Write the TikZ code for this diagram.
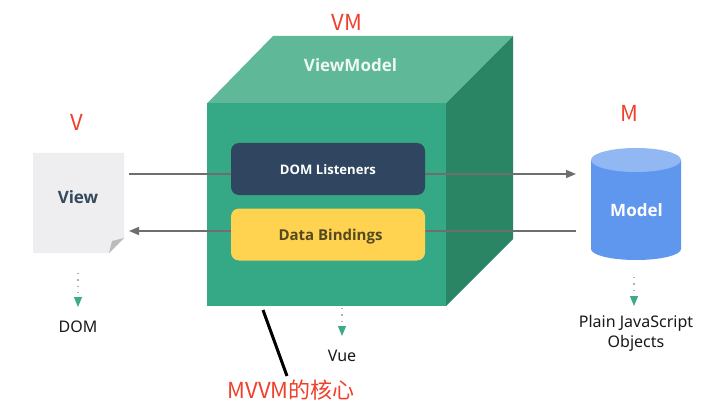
\documentclass[tikz,border=0pt]{standalone}
\usepackage{fontspec}
\setmainfont{Noto Sans}
\newfontfamily\heavy{Open Sans Bold}
\newfontfamily\cjk{Noto Sans CJK SC}
\usetikzlibrary{arrows.meta}
\definecolor{cubefront}{HTML}{35A985}
\definecolor{cubetop}{HTML}{5FB897}
\definecolor{cuberight}{HTML}{2A8565}
\definecolor{navy}{HTML}{2F4560}
\definecolor{amber}{HTML}{FFD24F}
\definecolor{paper}{HTML}{EEEEF0}
\definecolor{foldgray}{HTML}{BBBBBB}
\definecolor{cylside}{HTML}{5F96EE}
\definecolor{cyltop}{HTML}{92B8F4}
\definecolor{linkgray}{HTML}{6E6E6E}
\definecolor{tealtip}{HTML}{3DAB8A}
\definecolor{redlabel}{HTML}{F0402B}
\definecolor{viewtext}{HTML}{34495E}
\definecolor{bindtext}{HTML}{54491F}
\tikzset{
  x=1pt,y=-1pt,
  innerbox/.style={rounded corners=8pt,minimum width=194pt,minimum height=52pt,inner sep=0pt},
  listenlabel/.style={font=\heavy\fontsize{13.1}{16}\selectfont,inner sep=0pt},
  bindlabel/.style={font=\heavy\fontsize{15}{16}\selectfont,inner sep=0pt},
  biglabel/.style={font=\heavy\fontsize{17}{18}\selectfont,inner sep=0pt},
  plainlabel/.style={font=\fontsize{16}{20.5}\selectfont,text=black!90,inner sep=0pt,align=center},
  redtag/.style={font=\cjk\fontsize{22}{24}\selectfont,text=redlabel,inner sep=0pt},
  link/.style={draw=linkgray,line width=1.5pt},
  linktip/.style={-{Triangle[length=10pt,width=8pt,color=linkgray]}},
  dotlink/.style={draw=black!30,line width=1.1pt,dash pattern=on 1.3pt off 5pt,-{Triangle[length=10pt,width=8pt,color=tealtip]}},
}
\begin{document}
\begin{tikzpicture}
\useasboundingbox (0,0) rectangle (723,401);
\fill[white] (0,0) rectangle (723,401);
% cube
\fill[cubetop] (207,103.5) -- (273,36) -- (513,36) -- (446,103.5) -- cycle;
\fill[cuberight] (446,103.5) -- (513,36) -- (513,239) -- (446,306) -- cycle;
\fill[cubefront] (207,103.5) rectangle (446,306);
\node[biglabel,text=white!90!cubetop] (vmtitle) at (350.5,65) {ViewModel};
% view page
\fill[paper] (33,153) -- (124,153) -- (124,238) -- (109,253) -- (33,253) -- cycle;
\fill[foldgray] (124,238) -- (109,253) -- (112,241) -- cycle;
\node[biglabel,text=viewtext] (view) at (78,197) {View};
% model cylinder
\fill[cylside] (591,160) -- (591,249) arc[start angle=180,end angle=360,x radius=45,y radius=-11] -- (681,160) -- cycle;
\fill[cyltop] (636,160) ellipse[x radius=45,y radius=12];
\node[biglabel,text=white] (model) at (636.5,210) {Model};
% connector ends
\coordinate (viewout) at (129,174);
\coordinate (modelin) at (576,174);
\coordinate (modelout) at (576,231);
\coordinate (viewin) at (129,231);
\draw[link,linktip] (viewout) -- (modelin);
\draw[link,linktip] (modelout) -- (viewin);
% inner boxes
\node[innerbox,fill=navy,text=white] (listeners) at (328,169) {};
\node[listenlabel,text=white] (listenerstext) at (328,170) {DOM Listeners};
\node[innerbox,fill=amber] (bindings) at (328,234.5) {};
\node[bindlabel,text=bindtext] (bindingstext) at (330.5,236.5) {Data Bindings};
% dotted arrows
\coordinate (d1a) at (78,273); \coordinate (d1b) at (78,307);
\coordinate (d2a) at (342,308); \coordinate (d2b) at (342,336);
\coordinate (d3a) at (634,277); \coordinate (d3b) at (634,306);
\draw[dotlink] (d1a) -- (d1b);
\draw[dotlink] (d2a) -- (d2b);
\draw[dotlink] (d3a) -- (d3b);
% plain labels
\node[plainlabel] (dom) at (78,327) {DOM};
\node[plainlabel] (vue) at (342,356) {Vue};
\node[plainlabel] (plain) at (636,333.5) {Plain JavaScript\\Objects};
% red tags
\node[redtag] (v) at (77,122) {V};
\node[redtag] (vm) at (347,22) {VM};
\node[redtag] (m) at (629,113) {M};
\node[redtag] (core) at (291,390) {MVVM的核心};
\coordinate (coretop) at (287,376);
\coordinate (cubefoot) at (263,310);
\draw[black,line width=3pt] (cubefoot) -- (coretop);
\end{tikzpicture}
\end{document}
